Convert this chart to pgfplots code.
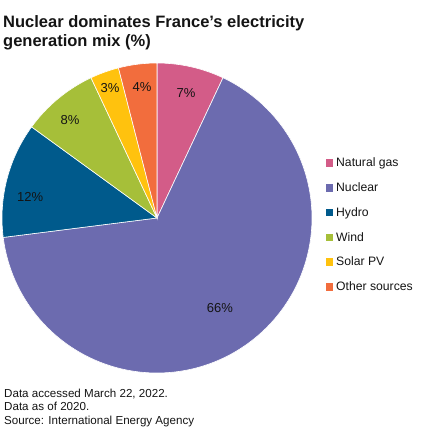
\documentclass[border=0pt]{standalone}
\usepackage{pgfplots}
\usepackage{pgfplotstable}
\pgfplotsset{compat=1.18}
\usepackage{fontspec}
\setmainfont{Liberation Sans}
\definecolor{cgas}{HTML}{D35C88}
\definecolor{cnuc}{HTML}{6C6BAF}
\definecolor{chyd}{HTML}{005A8C}
\definecolor{cwind}{HTML}{A6BF39}
\definecolor{csolar}{HTML}{FFC20E}
\definecolor{cother}{HTML}{F26D3D}
\definecolor{ctext}{HTML}{141414}
% shares (%) : Natural gas 7, Nuclear 66, Hydro 12, Wind 8, Solar PV 3, Other 4
% slices run clockwise from 90 deg; 1% = 3.6 deg
\pgfplotstableread{
x y p
0.187 0.806 7
0.406 -0.581 66
-0.819 0.135 12
-0.561 0.632 8
-0.303 0.839 3
-0.097 0.845 4
}\labels
\begin{document}
\begin{tikzpicture}
\useasboundingbox (0pt,0pt) rectangle (425pt,-437pt);
\node[anchor=base west, inner sep=0pt, text=ctext, font=\fontsize{16.5}{19}\selectfont\bfseries] at (3pt,-27.7pt) {Nuclear dominates France’s electricity};
\node[anchor=base west, inner sep=0pt, text=ctext, font=\fontsize{16.5}{19}\selectfont\bfseries] at (3pt,-46.7pt) {generation mix (\%)};
\begin{axis}[
  at={(2pt,-373pt)}, anchor=south west,
  scale only axis, width=310pt, height=310pt,
  xmin=-1, xmax=1, ymin=-1, ymax=1,
  hide axis, clip=false,
  legend style={at={(1.0435,0.7016)}, anchor=north west, draw=none, fill=none,
    inner sep=0pt, font=\fontsize{12.2}{14}\selectfont, text=ctext,
    row sep=10.5pt, cells={anchor=west}},
  legend image code/.code={\fill[#1, draw=none] (0pt,-3.8pt) rectangle (7.6pt,3.8pt); \path (8.2pt,0pt);},
]
\addplot[fill=cgas, draw=white, line width=0.6pt, domain={90-3.6*7}:90, samples=40, variable=\t] ({cos(\t)},{sin(\t)}) -- (0,0) -- cycle;
\addplot[fill=cnuc, draw=white, line width=0.6pt, domain={90-3.6*73}:{90-3.6*7}, samples=200, variable=\t] ({cos(\t)},{sin(\t)}) -- (0,0) -- cycle;
\addplot[fill=chyd, draw=white, line width=0.6pt, domain={90-3.6*85}:{90-3.6*73}, samples=60, variable=\t] ({cos(\t)},{sin(\t)}) -- (0,0) -- cycle;
\addplot[fill=cwind, draw=white, line width=0.6pt, domain={90-3.6*93}:{90-3.6*85}, samples=40, variable=\t] ({cos(\t)},{sin(\t)}) -- (0,0) -- cycle;
\addplot[fill=csolar, draw=white, line width=0.6pt, domain={90-3.6*96}:{90-3.6*93}, samples=20, variable=\t] ({cos(\t)},{sin(\t)}) -- (0,0) -- cycle;
\addplot[fill=cother, draw=white, line width=0.6pt, domain={90-3.6*100}:{90-3.6*96}, samples=20, variable=\t] ({cos(\t)},{sin(\t)}) -- (0,0) -- cycle;
\legend{Natural gas, Nuclear, Hydro, Wind, Solar PV, Other sources}
\addplot[forget plot, only marks, mark=none, point meta=explicit,
  nodes near coords={\pgfmathprintnumber[assume math mode=true]{\pgfplotspointmeta}\%},
  nodes near coords align=center,
  every node near coord/.append style={font=\fontsize{13}{15}\selectfont, text=ctext, anchor=center, inner sep=0pt}]
  table[x=x, y=y, meta=p] {\labels};
\end{axis}
\node[anchor=base west, inner sep=0pt, text=ctext, font=\fontsize{11.6}{13}\selectfont] at (4pt,-397pt) {Data accessed March 22, 2022.};
\node[anchor=base west, inner sep=0pt, text=ctext, font=\fontsize{11.6}{13}\selectfont] at (4pt,-410.5pt) {Data as of 2020.};
\node[anchor=base west, inner sep=0pt, text=ctext, font=\fontsize{11.6}{13}\selectfont] at (4pt,-424pt) {Source: International Energy Agency};
\end{tikzpicture}
\end{document}
